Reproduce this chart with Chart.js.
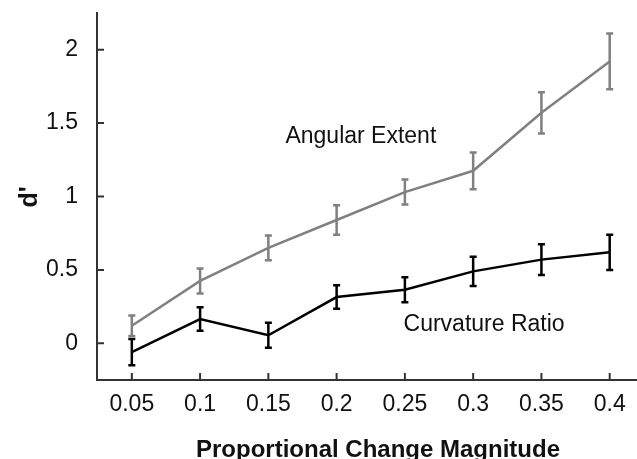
<!DOCTYPE html>
<html>
<head>
<meta charset="utf-8">
<script src="https://cdn.jsdelivr.net/npm/chart.js@4"></script>
<style>
  html, body { margin: 0; padding: 0; background: #fff; }
  canvas { display: block; }
</style>
</head>
<body>
<canvas id="myChart" width="637" height="459"></canvas>
<script>
// magnitudes on the x axis
const magnitudes = [0.05, 0.1, 0.15, 0.2, 0.25, 0.3, 0.35, 0.4];
// d' values and error bar half-lengths
const angularExtent = [0.12, 0.425, 0.65, 0.84, 1.03, 1.175, 1.57, 1.92];
const angularErr = [0.07, 0.085, 0.085, 0.1, 0.085, 0.125, 0.14, 0.19];
const curvatureRatio = [-0.06, 0.165, 0.055, 0.315, 0.365, 0.49, 0.57, 0.62];
const curvatureErr = [0.09, 0.08, 0.085, 0.08, 0.085, 0.1, 0.105, 0.12];
const yTicks = [0, 0.5, 1, 1.5, 2];

const FONT = "'Liberation Sans', Arial, sans-serif";

const toPoints = (ys) => magnitudes.map((x, i) => ({ x: x, y: ys[i] }));

// error bars, inner tick marks, axis titles and the two series labels
const extras = {
  id: 'extras',
  afterDatasetsDraw(chart) {
    const ctx = chart.ctx;
    const xs = chart.scales.x;
    const ys = chart.scales.y;
    const area = chart.chartArea;

    const bars = [
      { vals: angularExtent, err: angularErr, color: '#808080' },
      { vals: curvatureRatio, err: curvatureErr, color: '#000000' },
    ];
    ctx.save();
    ctx.lineWidth = 2.5;
    bars.forEach((b) => {
      ctx.strokeStyle = b.color;
      magnitudes.forEach((m, i) => {
        const px = xs.getPixelForValue(m);
        const top = ys.getPixelForValue(b.vals[i] + b.err[i]);
        const bot = ys.getPixelForValue(b.vals[i] - b.err[i]);
        ctx.beginPath();
        ctx.moveTo(px, top); ctx.lineTo(px, bot);
        ctx.moveTo(px - 3.5, top); ctx.lineTo(px + 3.5, top);
        ctx.moveTo(px - 3.5, bot); ctx.lineTo(px + 3.5, bot);
        ctx.stroke();
      });
    });

    // ticks pointing inward
    ctx.strokeStyle = '#333';
    ctx.lineWidth = 2;
    ctx.beginPath();
    yTicks.forEach((v) => {
      const py = ys.getPixelForValue(v);
      ctx.moveTo(area.left, py); ctx.lineTo(area.left + 7, py);
    });
    magnitudes.forEach((m) => {
      const px = xs.getPixelForValue(m);
      ctx.moveTo(px, area.bottom); ctx.lineTo(px, area.bottom - 7);
    });
    ctx.stroke();

    // series labels
    ctx.fillStyle = '#111';
    ctx.font = '23px ' + FONT;
    ctx.textAlign = 'left';
    ctx.textBaseline = 'middle';
    ctx.fillText('Angular Extent', xs.getPixelForValue(0.1625), ys.getPixelForValue(1.41));
    ctx.fillText('Curvature Ratio', xs.getPixelForValue(0.249), ys.getPixelForValue(0.13));

    // axis titles
    ctx.font = 'bold 24px ' + FONT;
    ctx.textAlign = 'center';
    ctx.textBaseline = 'alphabetic';
    ctx.fillText('Proportional Change Magnitude', 378, 457);
    ctx.font = 'bold 25px ' + FONT;
    ctx.save();
    ctx.translate(37, 197);
    ctx.rotate(-Math.PI / 2);
    ctx.fillText("d'", 0, 0);
    ctx.restore();
    ctx.restore();
  },
};

new Chart(document.getElementById('myChart').getContext('2d'), {
  type: 'scatter',
  data: {
    datasets: [
      {
        label: 'Angular Extent',
        data: toPoints(angularExtent),
        showLine: true,
        borderColor: '#808080',
        borderWidth: 2.5,
        pointRadius: 0,
        tension: 0,
      },
      {
        label: 'Curvature Ratio',
        data: toPoints(curvatureRatio),
        showLine: true,
        borderColor: '#000000',
        borderWidth: 2.5,
        pointRadius: 0,
        tension: 0,
      },
    ],
  },
  options: {
    responsive: false,
    animation: false,
    layout: { padding: { left: 0, top: 13, right: 0, bottom: 0 } },
    plugins: {
      legend: { display: false },
      tooltip: { enabled: false },
    },
    scales: {
      x: {
        type: 'linear',
        min: 0.0245,
        max: 0.42,
        afterBuildTicks: (scale) => { scale.ticks = magnitudes.map((v) => ({ value: v })); },
        afterFit: (scale) => {
          scale.height = 79;
          scale.paddingLeft = 0;
          scale.paddingRight = 0;
        },
        grid: { display: false, drawTicks: false },
        border: { display: true, color: '#333', width: 2 },
        ticks: {
          padding: 11,
          color: '#111',
          font: { family: FONT, size: 23 },
          maxRotation: 0,
          callback: (v) => String(v),
        },
      },
      y: {
        type: 'linear',
        min: -0.25,
        max: 2.25,
        afterBuildTicks: (scale) => { scale.ticks = yTicks.map((v) => ({ value: v })); },
        afterFit: (scale) => {
          scale.width = 97;
          scale.paddingTop = 0;
          scale.paddingBottom = 0;
        },
        grid: { display: false, drawTicks: false },
        border: { display: true, color: '#333', width: 2 },
        ticks: {
          padding: 19,
          color: '#111',
          font: { family: FONT, size: 23 },
          callback: (v) => String(v),
        },
      },
    },
  },
  plugins: [extras],
});
</script>
</body>
</html>
